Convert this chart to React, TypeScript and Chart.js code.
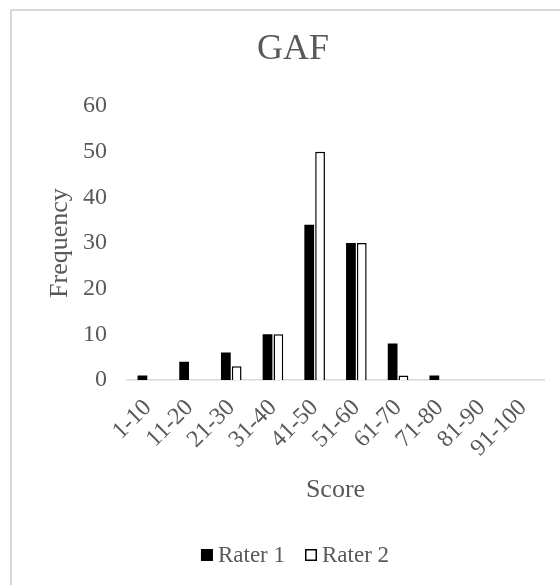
import React, { useEffect, useRef } from "react";
import { Chart, registerables } from "chart.js";

Chart.register(...registerables);

const categories = ["1-10", "11-20", "21-30", "31-40", "41-50", "51-60", "61-70", "71-80", "81-90", "91-100"];
const rater1 = [1, 4, 6, 10, 34, 30, 8, 1, 0, 0];
const rater2 = [0, 0, 3, 10, 50, 30, 1, 0, 0, 0];
const seriesNames = ["Rater 1", "Rater 2"];
const yMin = 0;
const yMax = 60;
const yStep = 10;

const FONT = "'Liberation Serif', 'Times New Roman', serif";
const TEXT = "#595959";

const legendPlugin = {
  id: "excelLegend",
  afterDraw(chart: any) {
    const ctx = chart.ctx;
    const size = 23;
    const box = 12;
    const gap = 5;
    const itemGap = 20;
    ctx.save();
    ctx.font = `${size}px ${FONT}`;
    const items = chart.data.datasets.map((ds: any) => ({
      label: ds.label,
      fill: ds.backgroundColor,
      stroke: ds.borderColor,
      lw: ds.borderWidth,
      w: ctx.measureText(ds.label).width,
    }));
    let total = 0;
    items.forEach((it: any, i: number) => {
      total += box + gap + it.w + (i < items.length - 1 ? itemGap : 0);
    });
    let x = chart.width / 2 - total / 2;
    const cy = 544;
    ctx.textBaseline = "middle";
    ctx.textAlign = "left";
    items.forEach((it: any) => {
      ctx.fillStyle = it.fill;
      ctx.fillRect(x, cy - box / 2, box, box);
      if (it.lw > 0) {
        ctx.strokeStyle = it.stroke;
        ctx.lineWidth = it.lw;
        ctx.strokeRect(x + it.lw / 2, cy - box / 2 + it.lw / 2, box - it.lw, box - it.lw);
      }
      ctx.fillStyle = TEXT;
      ctx.fillText(it.label, x + box + gap, cy + 1);
      x += box + gap + it.w + itemGap;
    });
    ctx.restore();
  },
};

export default function App() {
  const ref = useRef<HTMLCanvasElement>(null);

  useEffect(() => {
    const chart = new Chart(ref.current!, {
      type: "bar",
      data: {
        labels: categories,
        datasets: [
          {
            label: seriesNames[0],
            data: rater1,
            backgroundColor: "#000000",
            borderColor: "#000000",
            borderWidth: 0,
            categoryPercentage: 0.52,
            barPercentage: 0.9,
          },
          {
            label: seriesNames[1],
            data: rater2,
            backgroundColor: "#ffffff",
            borderColor: "#000000",
            borderWidth: 1.5,
            categoryPercentage: 0.52,
            barPercentage: 0.9,
          },
        ],
      },
      plugins: [legendPlugin],
      options: {
        responsive: false,
        animation: false,
        devicePixelRatio: 1,
        layout: { padding: { left: 30, right: 34, top: 0, bottom: 52 } },
        plugins: {
          title: {
            display: true,
            text: "GAF",
            color: TEXT,
            font: { family: FONT, size: 36, weight: "normal" },
            padding: { top: 17, bottom: 35 },
          },
          legend: { display: false },
          tooltip: { enabled: false },
        },
        scales: {
          x: {
            grid: { display: false, drawTicks: false },
            border: { display: true, color: "#d9d9d9", width: 1.5 },
            ticks: {
              color: TEXT,
              font: { family: FONT, size: 24 },
              minRotation: 45,
              maxRotation: 45,
              autoSkip: false,
              padding: 14,
            },
            title: {
              display: true,
              text: "Score",
              color: TEXT,
              font: { family: FONT, size: 26 },
              padding: { top: 0, bottom: 27 },
            },
            afterFit: (s: any) => {
              s.height = 153;
            },
          },
          y: {
            min: yMin,
            max: yMax,
            ticks: {
              stepSize: yStep,
              color: TEXT,
              font: { family: FONT, size: 24 },
              padding: 20,
            },
            grid: { display: false, drawTicks: false },
            border: { display: false },
            title: {
              display: true,
              text: "Frequency",
              color: TEXT,
              font: { family: FONT, size: 26 },
              padding: { top: 3, bottom: 0 },
            },
            afterFit: (s: any) => {
              s.width = 85;
            },
          },
        },
      },
    });
    return () => chart.destroy();
  }, []);

  return (
    <div
      style={{
        position: "fixed",
        left: 0,
        top: 0,
        width: 560,
        height: 585,
        overflow: "hidden",
        background: "#ffffff",
      }}
    >
      <div
        style={{
          position: "absolute",
          left: 10,
          top: 9,
          width: 566,
          height: 600,
          borderTop: "2px solid #d9d9d9",
          borderLeft: "2px solid #d9d9d9",
        }}
      >
        <canvas ref={ref} width={566} height={574} style={{ display: "block", width: 566, height: 574 }} />
      </div>
    </div>
  );
}
